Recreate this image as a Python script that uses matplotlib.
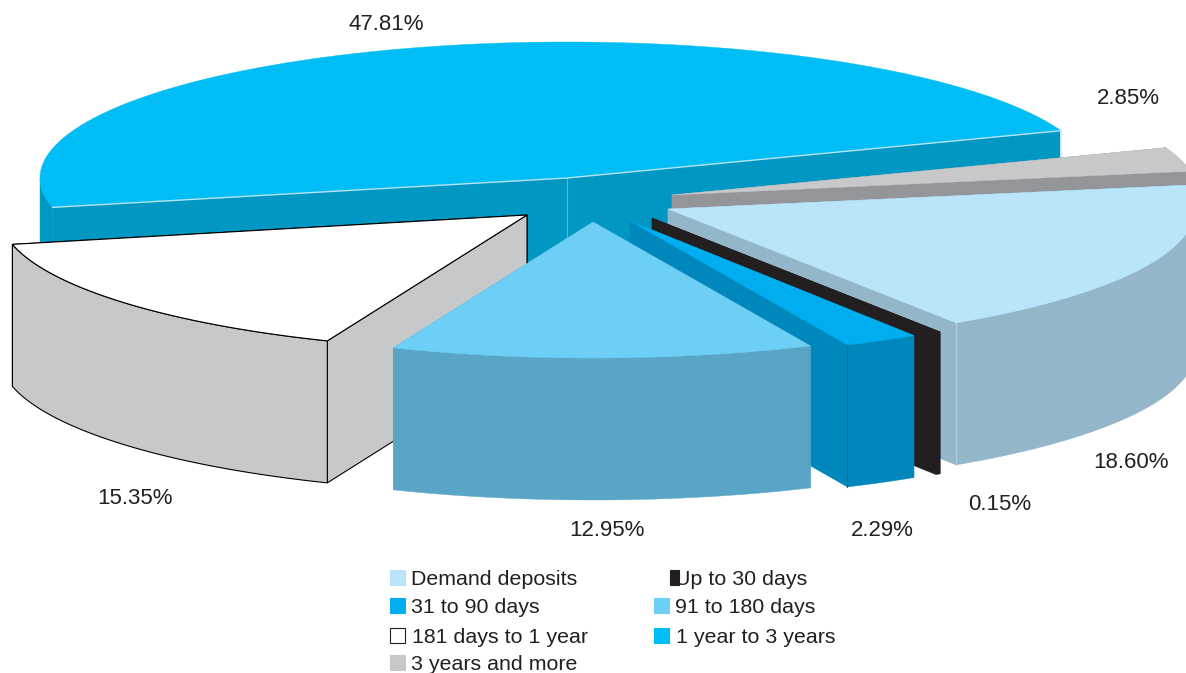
"""Exploded 3D-look pie of deposits by maturity, drawn as projected polygons."""

import numpy as np
import matplotlib
matplotlib.use("Agg")
import matplotlib.pyplot as plt
from matplotlib.patches import Rectangle

plt.rcParams["font.family"] = ["Liberation Sans", "DejaVu Sans"]

categories = ["Demand deposits", "Up to 30 days", "31 to 90 days", "91 to 180 days",
              "181 days to 1 year", "1 year to 3 years", "3 years and more"]
shares = [18.60, 0.15, 2.29, 12.95, 15.35, 47.81, 2.85]
value_labels = ["18.60%", "0.15%", "2.29%", "12.95%", "15.35%", "47.81%", "2.85%"]

top_colors = ["#b9e5fb", "#231f20", "#00aeef", "#6dcff6", "#ffffff", "#00bdf6", "#c7c8ca"]
side_colors = ["#94b6c9", "#231f20", "#0087bb", "#59a5c6", "#c7c8ca", "#0098c2", "#939598"]
outlined = [False, False, False, False, True, False, False]

# where each slice's tip sits once exploded (pixels)
tips = [(668, 209), (652, 218), (630, 221), (593, 222), (527, 215), (567, 178), (672, 195)]
draw_order = [5, 6, 4, 0, 1, 2, 3]

RX, RY, DEPTH = 527, 136, 142
START_ANGLE = 10.1

label_pos = [(1131, 460), (1000, 502), (882, 528), (607, 529), (135, 497), (386, 23), (1128, 97)]
legend_pos = [(390, 585), (670, 585), (390, 613), (654, 613), (390, 643), (654, 643), (390, 670)]
legend_text_x = [411, 675, 411, 675, 412, 676, 411]

fig = plt.figure(figsize=(11.86, 6.73), dpi=100)
ax = fig.add_axes([0, 0, 1, 1])
ax.set_xlim(0, 1186)
ax.set_ylim(673, 0)
ax.axis("off")

# slice angles, going clockwise
ends = START_ANGLE - np.cumsum(shares) * 3.6
starts = np.concatenate([[START_ANGLE], ends[:-1]])


def rim(tip, a0, a1):
    t = np.radians(np.linspace(a0, a1, 160))
    return tip[0] + RX * np.cos(t), tip[1] - RY * np.sin(t)


def draw_slice(i):
    tip, a0, a1 = tips[i], starts[i], ends[i]
    lw = 0.8 if outlined[i] else 0.3
    edge = "black" if outlined[i] else side_colors[i]
    x, y = rim(tip, a0, a1)

    # radial walls, the one further back goes first
    for k in sorted((0, -1), key=lambda n: y[n]):
        ax.fill([tip[0], x[k], x[k], tip[0]],
                [tip[1], y[k], y[k] + DEPTH, tip[1] + DEPTH],
                color=side_colors[i], ec=edge, lw=lw, zorder=i_z[i])

    # outer wall, only the part facing the viewer
    front = np.sin(np.radians(np.linspace(a0, a1, 160))) < 0
    if front.any():
        xf, yf = x[front], y[front]
        ax.fill(np.r_[xf, xf[::-1]], np.r_[yf, yf[::-1] + DEPTH],
                color=side_colors[i], ec=edge, lw=lw, zorder=i_z[i])

    ax.fill(np.r_[tip[0], x], np.r_[tip[1], y], color=top_colors[i],
            ec=edge if outlined[i] else top_colors[i], lw=lw, zorder=i_z[i] + 0.5)


i_z = {i: n + 1 for n, i in enumerate(draw_order)}
for i in draw_order:
    draw_slice(i)

# thin light seams on the walls
big = categories.index("1 year to 3 years")
bx, by = rim(tips[big], starts[big], ends[big])
seam_z = i_z[big] + 0.6
ax.plot([bx[0], tips[big][0], bx[-1]], [by[0], tips[big][1], by[-1]],
        color="#b5e4f5", lw=1.0, zorder=seam_z)
ax.plot([tips[big][0]] * 2, [tips[big][1], tips[big][1] + DEPTH], color="#5ab8d6",
        lw=0.8, zorder=i_z[big] + 0.2)
ax.plot([bx[-1]] * 2, [by[-1], by[-1] + DEPTH], color="#e8f6fb", lw=1.2,
        zorder=i_z[big] + 0.2)

dem = categories.index("Demand deposits")
dx, dy = rim(tips[dem], starts[dem], ends[dem])
ax.plot([dx[-1]] * 2, [dy[-1], dy[-1] + DEPTH], color="#b4ccd9", lw=0.9,
        zorder=i_z[dem] + 0.2)
mid = categories.index("31 to 90 days")
mx, my = rim(tips[mid], starts[mid], ends[mid])
ax.plot([mx[-1]] * 2, [my[-1], my[-1] + DEPTH], color="#0073a0", lw=0.8,
        zorder=i_z[mid] + 0.2)

for text, (lx, ly) in zip(value_labels, label_pos):
    ax.text(lx, ly + 2, text, ha="center", va="center", fontsize=16, color="#231f20", zorder=20)

# legend is laid out by hand, the keys are not on a regular grid
for i, name in enumerate(categories):
    kx, base = legend_pos[i]
    key_w = 9 if name == "Up to 30 days" else 15
    ax.add_patch(Rectangle((kx, base - 15), key_w, 15, fc=top_colors[i],
                           ec="#231f20" if outlined[i] else top_colors[i], lw=0.8, zorder=20))
    ax.text(legend_text_x[i], base, name, ha="left", va="baseline", fontsize=15.4,
            color="#231f20", zorder=21)

fig.savefig("out.png", dpi=100)
plt.close(fig)
